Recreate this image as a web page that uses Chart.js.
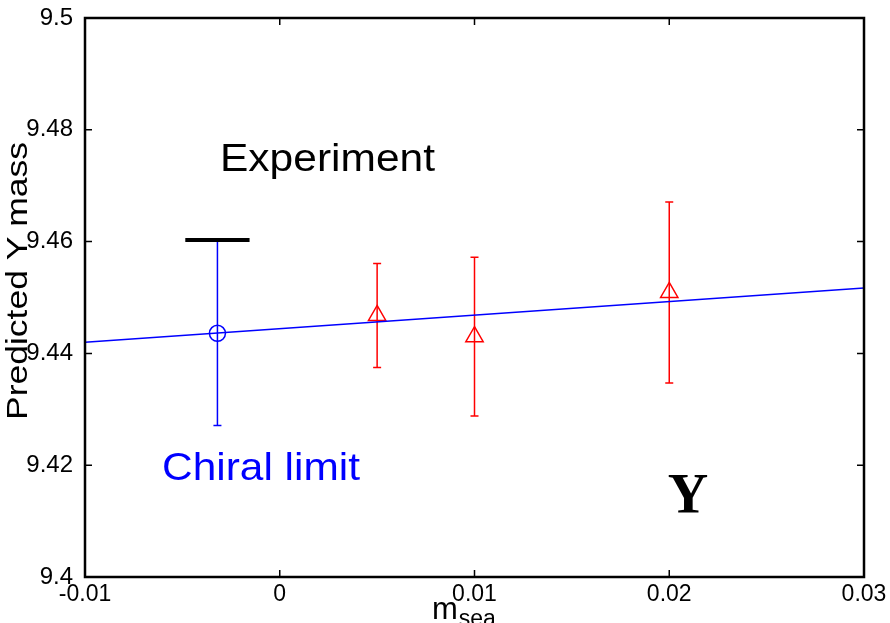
<!DOCTYPE html>
<html>
<head>
<meta charset="utf-8">
<script src="https://cdn.jsdelivr.net/npm/chart.js@4.4.1/dist/chart.umd.min.js"></script>
<style>
  html, body { margin: 0; padding: 0; background: #fff; }
  #wrap { width: 890px; height: 623px; }
</style>
</head>
<body>
<div id="wrap"><canvas id="ups" width="890" height="623"></canvas></div>
<script>
/****************** DATA **********************/

// lattice points (m_sea, predicted mass, error)
var seaMass   = [0.005, 0.01, 0.02];
var seaValue  = [9.4468, 9.4430, 9.4509];
var seaError  = [0.0093, 0.0142, 0.0162];

// chiral extrapolation
var chiralMass  = [-0.0032];
var chiralValue = [9.4436];
var chiralError = [0.0165];

// linear fit
var fitX = [-0.01, 0.03];
var fitY = [9.4420, 9.4517];

// experiment value
var expX = [-0.00485, -0.00155];
var expY = [9.4603, 9.4603];

var xTicks = [-0.01, 0, 0.01, 0.02, 0.03];
var yTicks = [9.4, 9.42, 9.44, 9.46, 9.48, 9.5];

/****************** FONCTION **********************/

function pts(xs, ys)
{
    return xs.map(function (x, i) { return { x: x, y: ys[i] }; });
}

function fitText(ctx, text, x, y, font, width, align)
{
    ctx.save();
    ctx.font = font;
    var w = ctx.measureText(text).width;
    var s = width ? width / w : 1;
    ctx.translate(x, y);
    ctx.scale(s, 1);
    ctx.textAlign = align || 'left';
    ctx.textBaseline = 'alphabetic';
    ctx.fillText(text, 0, 0);
    ctx.restore();
}

var errorBars = {
    id: 'errorBars',
    beforeDatasetsDraw: function (chart) {
        var ctx = chart.ctx, xs = chart.scales.x, ys = chart.scales.y;
        function bars(mx, my, me, color) {
            ctx.save();
            ctx.strokeStyle = color;
            ctx.lineWidth = 1.5;
            for (var i = 0; i < mx.length; i++) {
                var px = xs.getPixelForValue(mx[i]);
                var top = ys.getPixelForValue(my[i] + me[i]);
                var bot = ys.getPixelForValue(my[i] - me[i]);
                ctx.beginPath();
                ctx.moveTo(px, top); ctx.lineTo(px, bot);
                ctx.moveTo(px - 4, top); ctx.lineTo(px + 4, top);
                ctx.moveTo(px - 4, bot); ctx.lineTo(px + 4, bot);
                ctx.stroke();
            }
            ctx.restore();
        }
        bars(chiralMass, chiralValue, chiralError, '#0000ff');
        bars(seaMass, seaValue, seaError, '#ff0000');
    }
};

var frame = {
    id: 'frame',
    afterDraw: function (chart) {
        var ctx = chart.ctx, a = chart.chartArea, xs = chart.scales.x, ys = chart.scales.y;
        ctx.save();
        ctx.strokeStyle = '#000';
        ctx.lineWidth = 1.5;
        ctx.beginPath();
        xTicks.forEach(function (v) {
            var p = xs.getPixelForValue(v);
            ctx.moveTo(p, a.bottom); ctx.lineTo(p, a.bottom - 7);
            ctx.moveTo(p, a.top); ctx.lineTo(p, a.top + 7);
        });
        yTicks.forEach(function (v) {
            var p = ys.getPixelForValue(v);
            ctx.moveTo(a.left, p); ctx.lineTo(a.left + 7, p);
            ctx.moveTo(a.right, p); ctx.lineTo(a.right - 7, p);
        });
        ctx.stroke();
        ctx.lineWidth = 2.5;
        ctx.strokeRect(a.left, a.top, a.right - a.left, a.bottom - a.top);

        // labels
        ctx.fillStyle = '#000';
        fitText(ctx, 'Experiment', 220, 171, '39px "Liberation Sans", Arial', 215);
        ctx.fillStyle = '#0000ff';
        fitText(ctx, 'Chiral limit', 162, 480, '39px "Liberation Sans", Arial', 198);
        ctx.fillStyle = '#000';
        fitText(ctx, 'Υ', 688, 513, 'bold 56px "Liberation Serif", "Times New Roman"', 0, 'center');

        // axis titles
        ctx.save();
        ctx.translate(27, 281);
        ctx.rotate(-Math.PI / 2);
        fitText(ctx, 'Predicted Υ mass', 0, 0, '30px "Liberation Sans", Arial', 278, 'center');
        ctx.restore();

        ctx.font = '31px "Liberation Sans", Arial';
        ctx.textAlign = 'left';
        ctx.textBaseline = 'alphabetic';
        ctx.fillText('m', 432, 619);
        var mw = ctx.measureText('m').width;
        ctx.font = '23px "Liberation Sans", Arial';
        ctx.fillText('sea', 432 + mw + 1, 626);
        ctx.restore();
    }
};

function makeUpsilonChart()
{
    var ctx = document.getElementById('ups').getContext('2d');
    new Chart(ctx, {
        type: 'scatter',
        data: {
            datasets: [{
                type: 'line',
                data: pts(fitX, fitY),
                borderColor: '#0000ff',
                borderWidth: 1.5,
                pointRadius: 0,
                fill: false
            }, {
                type: 'line',
                data: pts(expX, expY),
                borderColor: '#000',
                borderWidth: 4,
                pointRadius: 0,
                fill: false
            }, {
                data: pts(chiralMass, chiralValue),
                pointStyle: 'circle',
                pointRadius: 8,
                borderColor: '#0000ff',
                backgroundColor: 'rgba(0,0,0,0)',
                borderWidth: 1.5
            }, {
                data: pts(seaMass, seaValue),
                pointStyle: 'triangle',
                pointRadius: 10,
                borderColor: '#ff0000',
                backgroundColor: 'rgba(0,0,0,0)',
                borderWidth: 1.5
            }]
        },
        options: {
            responsive: false,
            animation: false,
            devicePixelRatio: 1,
            layout: {
                autoPadding: false,
                padding: { top: 18, right: 26, left: 0, bottom: 0 }
            },
            plugins: {
                legend: { display: false },
                tooltip: { enabled: false }
            },
            scales: {
                x: {
                    type: 'linear',
                    min: -0.01,
                    max: 0.03,
                    afterFit: function (s) {
                        s.height = 46;
                        s.paddingLeft = 0; s.paddingRight = 0;
                        s.paddingTop = 0; s.paddingBottom = 0;
                    },
                    afterBuildTicks: function (s) { s.ticks = xTicks.map(function (v) { return { value: v }; }); },
                    grid: { display: false, drawTicks: false },
                    border: { display: false },
                    ticks: {
                        color: '#000',
                        padding: 4,
                        maxRotation: 0,
                        font: { family: '"Liberation Sans", Arial', size: 23 },
                        callback: function (v) { return String(Math.round(v * 100) / 100); }
                    }
                },
                y: {
                    type: 'linear',
                    min: 9.4,
                    max: 9.5,
                    afterFit: function (s) {
                        s.width = 85;
                        s.paddingLeft = 0; s.paddingRight = 0;
                        s.paddingTop = 0; s.paddingBottom = 0;
                    },
                    afterBuildTicks: function (s) { s.ticks = yTicks.map(function (v) { return { value: v }; }); },
                    grid: { display: false, drawTicks: false },
                    border: { display: false },
                    ticks: {
                        color: '#000',
                        padding: 12,
                        font: { family: '"Liberation Sans", Arial', size: 24 },
                        callback: function (v) { return String(Math.round(v * 100) / 100); }
                    }
                }
            }
        },
        plugins: [errorBars, frame]
    });
}

makeUpsilonChart();
</script>
</body>
</html>
